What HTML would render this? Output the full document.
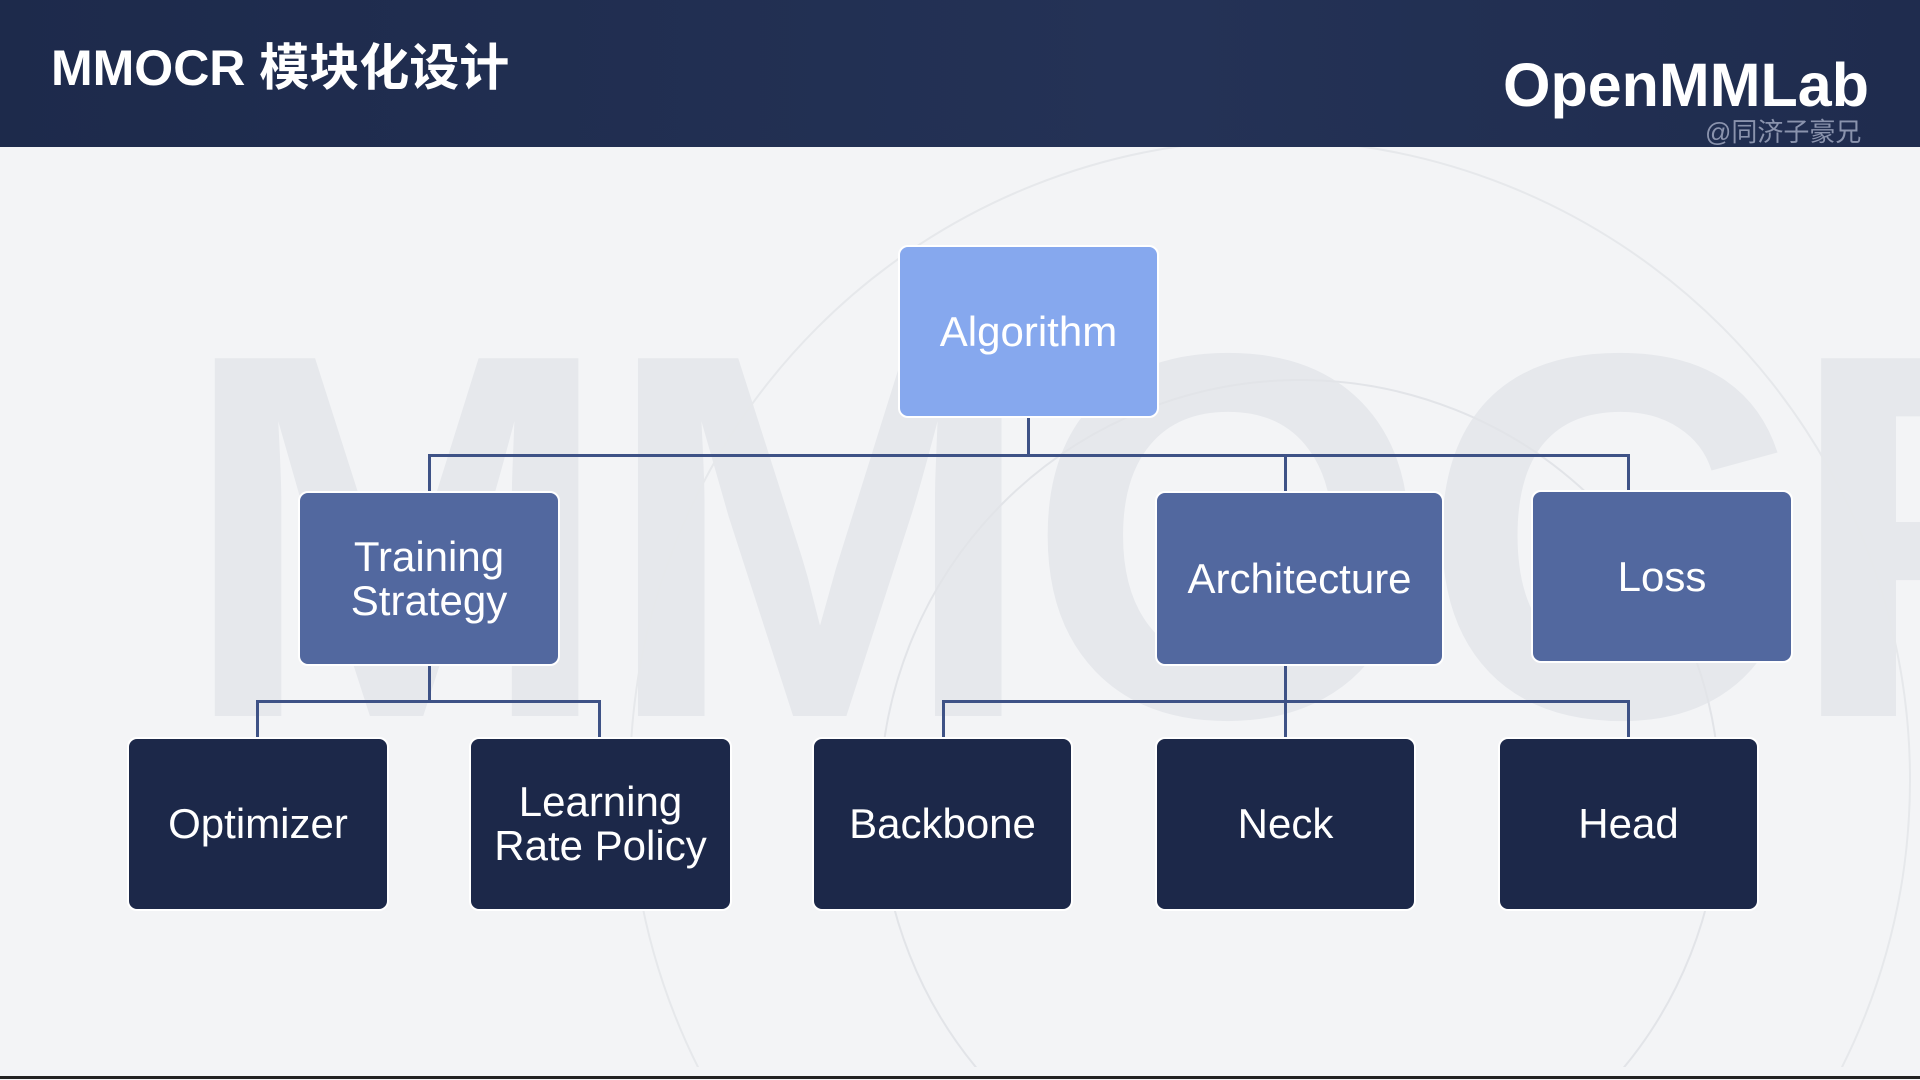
<!DOCTYPE html>
<html><head><meta charset="utf-8"><style>
html,body{margin:0;padding:0;width:1920px;height:1080px;overflow:hidden}
body{position:relative;background:#f3f4f6;font-family:"Liberation Sans","Noto Sans CJK SC",sans-serif}
.hdr{position:absolute;left:0;top:0;width:1920px;height:147px;background:linear-gradient(90deg,#1d2a4b,#243256 60%,#1f2c4e)}
.title{position:absolute;left:51px;top:38px;color:#fff;font-size:50px;font-weight:bold;line-height:60px}
.logo{position:absolute;left:1503px;top:50px;color:#fff;font-size:61px;font-weight:bold;line-height:70px;letter-spacing:0px}
.wm{position:absolute;left:1705px;top:118px;color:#8a93ad;font-size:26px;line-height:28px}
.bgw{position:absolute;left:0;top:147px;width:1920px;height:920px;overflow:hidden}
.bg{position:absolute;left:180px;top:110px;font-size:520px;font-weight:bold;color:#c9ced6;opacity:.3;letter-spacing:-10px;line-height:560px;white-space:nowrap}
.n{position:absolute;color:#fff;display:flex;align-items:center;justify-content:center;text-align:center;border-radius:10px;font-size:42px;line-height:44px;box-sizing:border-box;border:2px solid #fff}
.a{background:#86a8ee}.m{background:#52689f}.d{background:#1c2849}
.l{position:absolute;background:#3e5286}
.bot{position:absolute;left:0;top:1076px;width:1920px;height:3px;background:#222}
</style></head><body>
<div class="bgw"><div class="bg">MMOCR</div>
<svg style="position:absolute;left:0;top:0" width="1920" height="920"><circle cx="1300" cy="653" r="420" fill="none" stroke="#e2e4e8" stroke-width="2"/><circle cx="1270" cy="633" r="640" fill="none" stroke="#e6e8eb" stroke-width="2"/></svg></div>
<div class="hdr"></div>
<div class="title">MMOCR 模块化设计</div>
<div class="logo">OpenMMLab</div>
<div class="wm">@同济子豪兄</div>

<div class="l" style="left:1027px;top:416px;width:3px;height:40px"></div>
<div class="l" style="left:428px;top:454px;width:1202px;height:3px"></div>
<div class="l" style="left:428px;top:454px;width:3px;height:40px"></div>
<div class="l" style="left:1284px;top:454px;width:3px;height:40px"></div>
<div class="l" style="left:1627px;top:454px;width:3px;height:40px"></div>

<div class="l" style="left:428px;top:664px;width:3px;height:38px"></div>
<div class="l" style="left:256px;top:700px;width:345px;height:3px"></div>
<div class="l" style="left:256px;top:700px;width:3px;height:40px"></div>
<div class="l" style="left:598px;top:700px;width:3px;height:40px"></div>

<div class="l" style="left:1284px;top:664px;width:3px;height:76px"></div>
<div class="l" style="left:942px;top:700px;width:688px;height:3px"></div>
<div class="l" style="left:942px;top:700px;width:3px;height:40px"></div>
<div class="l" style="left:1627px;top:700px;width:3px;height:40px"></div>

<div class="n a" style="left:898px;top:245px;width:261px;height:173px">Algorithm</div>
<div class="n m" style="left:298px;top:491px;width:262px;height:175px">Training<br>Strategy</div>
<div class="n m" style="left:1155px;top:491px;width:289px;height:175px">Architecture</div>
<div class="n m" style="left:1531px;top:490px;width:262px;height:173px">Loss</div>
<div class="n d" style="left:127px;top:737px;width:262px;height:174px">Optimizer</div>
<div class="n d" style="left:469px;top:737px;width:263px;height:174px">Learning<br>Rate Policy</div>
<div class="n d" style="left:812px;top:737px;width:261px;height:174px">Backbone</div>
<div class="n d" style="left:1155px;top:737px;width:261px;height:174px">Neck</div>
<div class="n d" style="left:1498px;top:737px;width:261px;height:174px">Head</div>
<div class="bot"></div>
</body></html>
